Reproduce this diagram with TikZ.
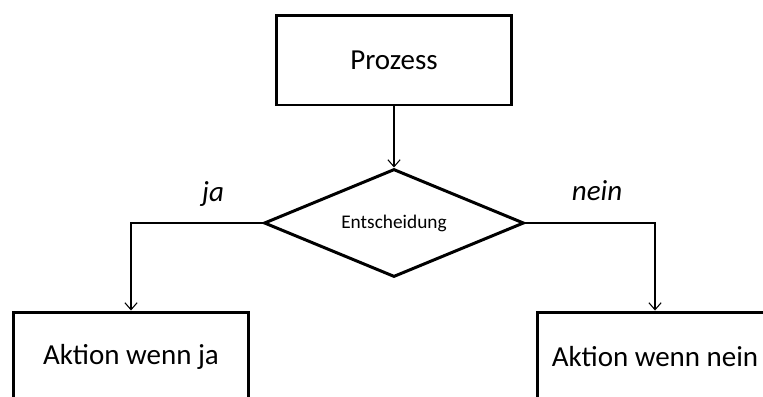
\documentclass[tikz,border=0pt]{standalone}
\usepackage{fontspec}
\setmainfont{Carlito}
\usetikzlibrary{shapes.geometric,arrows.meta}

\tikzset{
    stepbox/.style={draw, line width=1.7pt, minimum width=4.7cm, minimum height=1.8cm,
        inner sep=0pt, font=\fontsize{16.5}{19}\selectfont},
    decision/.style={draw, diamond, aspect=2.4, line width=1.7pt, minimum width=5.2cm, minimum height=2.16cm,
        inner sep=0pt, font=\fontsize{11}{13}\selectfont},
    flow/.style={line width=0.6pt, -{Straight Barb[length=4pt,width=7pt]}},
    answer/.style={anchor=base, font=\fontsize{16.5}{19}\selectfont\itshape}
}

\begin{document}
\begin{tikzpicture}[x=0.02cm, y=-0.02cm]
            \useasboundingbox (0, 0) rectangle (763, 396);
            \node[stepbox] (prozess) at (394, 60) {Prozess};
            \node[decision] (entscheidung) at (394, 223) {Entscheidung};
            \node[stepbox] (aktionja) at (131, 357) {Aktion wenn ja};
            \node[stepbox] (aktionnein) at (655, 357) {Aktion wenn nein};
            \node[answer] (ja) at (213, 201) {ja};
            \node[answer] (nein) at (597, 200) {nein};
            \draw[flow] (prozess.south) -- (entscheidung.north);
            \draw[flow] (entscheidung.west) -| (aktionja.north);
            \draw[flow] (entscheidung.east) -| (aktionnein.north);
        \end{tikzpicture}
\end{document}
